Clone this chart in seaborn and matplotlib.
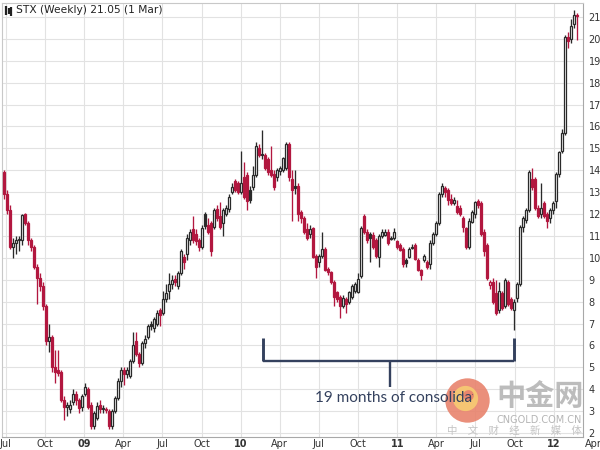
import numpy as np
import pandas as pd
import matplotlib
matplotlib.use("Agg")
import matplotlib.pyplot as plt
import matplotlib.dates as mdates
import matplotlib.transforms as mtransforms
import seaborn as sns

# ---------------- data (weekly OHLC) ----------------
start_date = "2008-06-27"

opens = [
    13.9, 12.9, 12.2, 10.5, 10.7, 10.8, 10.8, 12.0, 11.6, 10.8,
    10.5, 9.6, 9.1, 8.7, 7.8, 6.2, 6.4, 5.0, 4.9, 4.8,
    3.5, 3.2, 3.1, 3.4, 3.8, 3.5, 3.2, 3.8, 4.0, 3.3,
    2.3, 2.7, 3.3, 3.1, 3.1, 3.0, 2.3, 3.0, 3.6, 4.4,
    4.9, 4.7, 4.6, 5.3, 6.2, 5.6, 5.2, 6.1, 6.4, 7.0,
    6.8, 7.0, 7.6, 7.5, 8.1, 8.5, 8.8, 9.05, 8.7, 9.3,
    10.05, 10.2, 10.8, 11.3, 11.1, 10.8, 10.5, 12.0, 11.5, 11.6,
    11.4, 12.25, 11.9, 11.6, 12.0, 12.25, 13.0, 13.5, 13.4, 13.0,
    13.7, 13.8, 13.1, 13.25, 13.8, 15.0, 14.75, 14.7, 14.5, 14.0,
    13.85, 13.7, 13.95, 14.0, 14.1, 15.2, 13.6, 13.3, 13.3, 12.1,
    11.8, 11.3, 11.1, 11.35, 10.1, 9.8, 10.1, 10.4, 9.5, 9.37,
    8.9, 8.45, 8.2, 7.8, 8.1, 8.0, 8.2, 8.5, 8.45, 9.15,
    11.9, 11.2, 11.1, 11.05, 10.8, 10.05, 11.0, 11.05, 11.2, 10.9,
    10.9, 10.75, 10.6, 10.4, 9.9, 10.05, 10.45, 10.6, 9.9, 9.45,
    9.9, 9.8, 9.7, 10.7, 11.1, 11.6, 12.9, 13.2, 13.1, 12.7,
    12.5, 12.35, 12.3, 11.8, 11.35, 10.5, 11.65, 12.0, 12.6, 12.5,
    11.2, 10.6, 8.75, 8.9, 8.4, 7.6, 8.4, 7.8, 8.9, 8.1,
    7.6, 8.15, 8.8, 11.4, 11.75, 12.2, 13.6, 13.6, 12.3, 12.0,
    12.5, 12.0, 11.8, 12.2, 12.6, 13.85, 14.9, 15.7, 20.1, 20.0,
    20.7, 21.1,
]

highs = [
    14.0, 13.1, 12.4, 10.9, 11.0, 11.0, 12.0, 12.05, 11.7, 10.9,
    10.6, 9.7, 9.3, 8.9, 7.9, 7.0, 6.5, 5.8, 5.8, 4.9,
    3.7, 3.4, 3.5, 4.0, 3.9, 3.6, 3.8, 4.3, 4.1, 3.4,
    3.0, 3.4, 3.5, 3.3, 3.2, 3.1, 3.1, 3.7, 4.5, 5.0,
    5.0, 5.0, 5.4, 6.6, 6.6, 5.7, 6.2, 6.5, 7.0, 7.1,
    7.3, 7.6, 7.7, 8.5, 8.8, 9.3, 9.2, 9.2, 9.4, 10.4,
    10.2, 11.1, 11.3, 11.9, 11.3, 10.9, 11.5, 12.1, 11.8, 11.7,
    12.3, 12.4, 12.55, 12.3, 12.4, 12.9, 13.4, 13.6, 13.5, 14.9,
    14.4, 13.9, 13.3, 14.2, 15.3, 15.2, 15.85, 14.8, 14.6, 15.1,
    14.0, 14.1, 14.2, 14.6, 15.3, 15.3, 14.0, 14.0, 13.4, 12.2,
    11.9, 11.6, 11.5, 11.4, 10.2, 10.2, 11.2, 10.5, 9.6, 9.4,
    9.0, 8.5, 8.3, 8.3, 8.2, 8.5, 8.8, 8.9, 9.3, 11.45,
    12.0, 11.3, 11.2, 11.2, 10.9, 11.1, 11.3, 11.3, 11.3, 11.0,
    11.35, 10.8, 10.7, 10.5, 10.0, 10.5, 10.65, 10.7, 10.0, 9.5,
    10.2, 9.9, 10.8, 11.2, 11.7, 13.0, 13.4, 13.3, 13.2, 12.9,
    12.8, 12.65, 12.4, 11.9, 11.4, 11.8, 12.2, 12.6, 12.7, 12.6,
    11.3, 10.7, 9.0, 9.1, 9.0, 8.9, 8.5, 9.1, 9.0, 8.2,
    8.1, 8.9, 11.5, 11.9, 12.3, 14.0, 14.1, 13.7, 12.4, 13.4,
    12.6, 12.1, 12.3, 12.6, 13.9, 14.9, 15.9, 20.2, 20.3, 20.9,
    21.3, 21.2,
]

lows = [
    12.7, 12.0, 10.4, 10.0, 10.2, 10.3, 10.6, 11.5, 10.6, 10.3,
    9.5, 7.9, 8.5, 7.6, 6.0, 5.7, 4.8, 4.3, 4.6, 3.4,
    2.6, 2.8, 2.9, 3.3, 3.3, 2.9, 3.0, 3.7, 3.1, 2.2,
    2.2, 2.6, 2.9, 2.9, 2.9, 2.2, 2.2, 2.9, 3.5, 4.1,
    4.2, 4.5, 4.5, 5.2, 5.5, 5.0, 5.1, 5.9, 6.3, 6.7,
    6.6, 6.9, 6.9, 7.4, 8.0, 8.1, 8.6, 8.7, 8.6, 9.2,
    9.5, 9.9, 10.6, 10.7, 10.6, 10.3, 10.4, 11.3, 11.1, 10.1,
    11.3, 11.7, 11.3, 11.0, 11.9, 12.1, 12.9, 13.0, 12.9, 12.9,
    12.7, 12.2, 12.5, 13.1, 13.7, 14.6, 14.5, 14.0, 13.8, 13.7,
    13.1, 13.5, 13.8, 13.9, 14.0, 13.5, 11.7, 12.9, 11.7, 11.6,
    11.1, 10.8, 10.9, 10.0, 9.1, 9.6, 10.0, 9.4, 9.2, 8.8,
    7.8, 8.0, 7.24, 7.7, 7.5, 7.9, 8.1, 8.4, 8.4, 9.1,
    11.1, 10.7, 9.8, 10.4, 10.0, 9.6, 10.9, 11.0, 10.6, 10.8,
    10.8, 10.4, 10.3, 9.6, 9.6, 10.0, 10.4, 9.9, 9.4, 9.0,
    9.8, 9.5, 9.5, 10.6, 11.0, 11.5, 12.8, 12.8, 12.4, 12.4,
    12.4, 12.0, 11.9, 11.2, 10.4, 10.4, 11.6, 11.8, 12.3, 11.0,
    10.1, 9.0, 8.6, 7.9, 7.4, 7.5, 7.6, 7.7, 7.8, 7.6,
    6.7, 8.0, 8.7, 11.2, 11.6, 12.1, 13.1, 12.2, 11.8, 11.8,
    11.8, 11.35, 11.6, 12.0, 12.3, 13.7, 14.8, 15.6, 19.6, 19.8,
    20.5, 19.95,
]

closes = [
    12.9, 12.2, 10.5, 10.7, 10.8, 10.85, 11.95, 11.6, 10.8, 10.5,
    9.6, 9.1, 8.7, 7.8, 6.2, 6.4, 5.0, 4.8, 4.75, 3.5,
    3.2, 3.3, 3.3, 3.8, 3.5, 3.15, 3.7, 4.1, 3.2, 2.3,
    2.9, 3.25, 3.1, 3.15, 3.05, 2.3, 3.0, 3.6, 4.4, 4.9,
    4.7, 4.9, 5.3, 6.0, 5.6, 5.2, 6.1, 6.3, 6.9, 6.9,
    7.2, 7.5, 7.4, 8.1, 8.4, 8.8, 9.0, 8.9, 9.3, 10.3,
    9.8, 10.9, 11.2, 10.8, 10.75, 10.5, 11.35, 11.45, 11.2, 10.3,
    12.2, 11.8, 11.4, 12.2, 12.3, 12.8, 13.25, 13.1, 13.0, 13.4,
    12.8, 12.6, 12.65, 13.8, 15.1, 14.7, 14.7, 14.1, 13.9, 13.8,
    13.25, 14.0, 14.1, 14.55, 15.2, 13.7, 13.1, 13.2, 12.0, 11.8,
    11.2, 10.9, 11.3, 10.05, 9.6, 10.1, 10.4, 9.45, 9.35, 8.9,
    8.2, 8.1, 7.8, 8.15, 7.9, 8.45, 8.7, 8.8, 9.05, 11.35,
    11.2, 10.8, 10.9, 10.5, 10.1, 11.0, 11.2, 11.2, 10.7, 10.85,
    11.2, 10.5, 10.35, 9.7, 9.75, 10.4, 10.5, 9.95, 9.45, 9.2,
    10.1, 9.6, 10.7, 11.1, 11.6, 12.9, 13.3, 13.0, 12.65, 12.5,
    12.65, 12.1, 12.0, 11.4, 10.5, 11.7, 12.1, 12.55, 12.4, 11.1,
    10.3, 9.1, 8.9, 8.0, 7.5, 8.5, 7.7, 9.0, 7.9, 7.7,
    8.0, 8.8, 11.4, 11.8, 12.2, 13.9, 13.25, 12.3, 11.9, 12.3,
    11.9, 11.7, 12.2, 12.5, 13.85, 14.85, 15.7, 20.1, 19.9, 20.6,
    21.1, 21.05,
]

y_ticks = list(range(2, 22))
x_tick_dates = ["2008-07-01", "2008-10-01", "2009-01-01", "2009-04-01", "2009-07-01",
                "2009-10-01", "2010-01-01", "2010-04-01", "2010-07-01", "2010-10-01",
                "2011-01-01", "2011-04-01", "2011-07-01", "2011-10-01", "2012-01-01"]
x_tick_labels = ["Jul", "Oct", "09", "Apr", "Jul", "Oct", "10", "Apr", "Jul", "Oct",
                 "11", "Apr", "Jul", "Oct", "12"]
title_text = "STX (Weekly) 21.05 (1 Mar)"
note_text = "19 months of consolidation"

# ---------------- style ----------------
sns.set_theme(style="whitegrid")
plt.rcParams['font.family'] = ['DejaVu Sans', 'Noto Sans CJK SC']

dates = pd.date_range(start_date, periods=len(closes), freq="7D")
df = pd.DataFrame({"date": dates, "open": opens, "high": highs,
                   "low": lows, "close": closes})
df["x"] = mdates.date2num(df["date"])
prev = df["close"].shift(1).fillna(np.inf)
df["red"] = df["close"] < prev
df["filled"] = df["close"] < df["open"]

RED = "#B2173F"
DARK = "#2A2A2A"

fig = plt.figure(figsize=(6, 4.5), dpi=100)
fig.patch.set_facecolor("white")
ax = fig.add_axes([2 / 600, 13 / 450, 581 / 600, 434 / 450])
ax.set_facecolor("white")

# wicks
line_cols = np.where(df["red"], RED, DARK)
ax.vlines(df["x"], df["low"], df["high"], colors=line_cols, linewidth=0.95, zorder=3)

# bodies
body_bottom = np.minimum(df["open"], df["close"])
body_h = np.maximum(np.abs(df["close"] - df["open"]), 0.05)
face = [(RED if r else DARK) if f else "white" for r, f in zip(df["red"], df["filled"])]
ax.bar(df["x"], body_h, bottom=body_bottom, width=4.8, color=face,
       edgecolor=line_cols, linewidth=0.9, zorder=4, align="center")

# axes limits
x_left = mdates.date2num(pd.Timestamp("2008-06-22 14:00"))
x_right = mdates.date2num(pd.Timestamp("2012-03-08 18:00"))
ax.set_xlim(x_left, x_right)
ax.set_ylim(1.82, 21.64)

# grid & ticks
ax.set_yticks(y_ticks)
ax.yaxis.tick_right()
ax.tick_params(axis="y", length=0, pad=4, labelsize=7, labelcolor="#333333")
xt = mdates.date2num(pd.to_datetime(x_tick_dates))
ax.set_xticks(xt)
ax.set_xticklabels(x_tick_labels)
ax.tick_params(axis="x", length=0, pad=1.5, labelsize=7, labelcolor="#333333")
for lab in ax.get_xticklabels():
    if lab.get_text().isdigit():
        lab.set_fontweight("bold")
ax.text(mdates.date2num(pd.Timestamp("2012-04-01")), -0.0035, "Apr",
        transform=ax.get_xaxis_transform(), ha="center", va="top",
        fontsize=7, color="#333333", clip_on=False)

ax.grid(True, color="#E2E2E2", linewidth=0.8, zorder=0)
ax.set_axisbelow(True)
for s in ["left", "top"]:
    ax.spines[s].set_color("#C8C8C8")
    ax.spines[s].set_linewidth(0.8)
for s in ["right", "bottom"]:
    ax.spines[s].set_color("#A8A8A8")
    ax.spines[s].set_linewidth(0.8)

# title with small icon
ax.text(0.024, 0.984, title_text, transform=ax.transAxes, ha="left",
        va="center", fontsize=7.7, color="#222222", zorder=6)
for fx, y0, y1 in [(0.0075, 0.972, 0.992), (0.0115, 0.975, 0.988), (0.0155, 0.970, 0.990)]:
    ax.plot([fx, fx], [y0, y1], transform=ax.transAxes, color="#222222",
            linewidth=1.6, solid_capstyle="butt", zorder=6)

# consolidation bracket
NAVY = "#34415E"
d = lambda s: mdates.date2num(pd.Timestamp(s))
xl, xr, xm = d("2010-02-21"), d("2011-09-29"), d("2010-12-14")
ax.plot([xl, xl], [6.36, 5.27], color=NAVY, linewidth=2.1, solid_capstyle="butt", zorder=5)
ax.plot([xl, xr], [5.3, 5.3], color=NAVY, linewidth=1.7, solid_capstyle="butt", zorder=5)
ax.plot([xr, xr], [6.36, 5.27], color=NAVY, linewidth=2.1, solid_capstyle="butt", zorder=5)
ax.plot([xm, xm], [5.3, 4.1], color=NAVY, linewidth=1.7, solid_capstyle="butt", zorder=5)

# watermark logo
ax.scatter([d("2011-06-12")], [3.51], s=1020, color="#E8836D", alpha=0.9,
           linewidths=0, zorder=6)
ax.scatter([d("2011-06-08")], [3.6], s=330, color="#F6C773", alpha=0.97,
           linewidths=0, zorder=6.5)
ax.scatter([d("2011-06-14")], [3.72], s=60, color="#E8836D", alpha=0.95,
           linewidths=0, zorder=6.6)

# note text sits over the logo; its tail is hidden by the watermark in the reference
note = ax.text(d("2010-06-23"), 3.6, note_text, ha="left", va="center", fontsize=11,
               color=NAVY, family=["Lato", "DejaVu Sans"], zorder=7)
note.set_clip_box(mtransforms.TransformedBbox(
    mtransforms.Bbox([[0, 0], [473 / 600, 1]]), fig.transFigure))
note.set_clip_on(True)

fig.text(540 / 600, 1 - 396 / 450, "中金网", ha="center", va="center", fontsize=21,
         fontweight="bold", color="#B5B5B5", family=["Noto Sans CJK SC"], alpha=0.9)
fig.text(539 / 600, 1 - 420 / 450, "CNGOLD.COM.CN", ha="center", va="center",
         fontsize=7, color="#B5B5B5")
fig.text(514 / 600, 1 - 431 / 450, "中\u3000文\u3000财\u3000经\u3000新\u3000媒\u3000体",
         ha="center", va="center", fontsize=7.5, color="#C4C4C4",
         family=["Noto Sans CJK SC"])

fig.savefig("out.png", dpi=100)
